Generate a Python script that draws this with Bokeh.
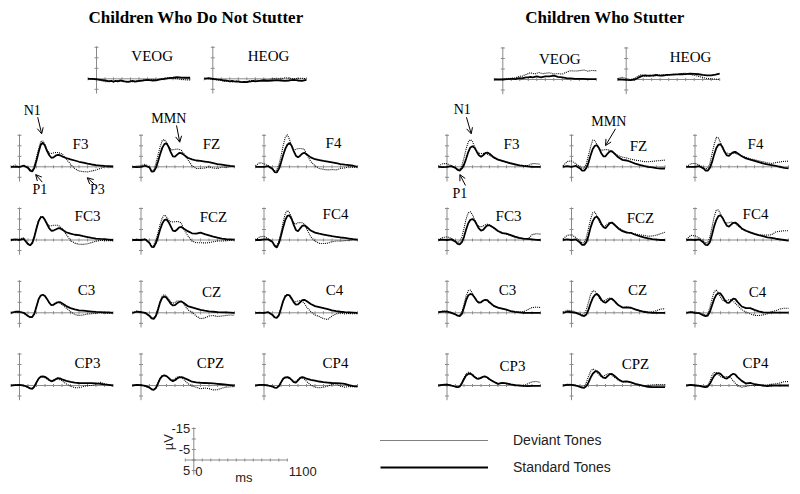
import numpy as np
from bokeh.plotting import figure
from bokeh.models import Range1d, Arrow, OpenHead, Legend, LegendItem
from bokeh.embed import file_html
from bokeh.resources import INLINE
from bokeh.core.properties import value

# ---------------- data (time in ms, amplitude in microvolts, negative up) ----------------
T_MS = [-100, -50, 0, 50, 100, 125, 150, 175, 200, 225, 250, 275, 300, 325, 350, 375,
        400, 425, 450, 475, 500, 550, 600, 650, 700, 750, 800, 850, 900, 950, 1000, 1050, 1100]

CHANNEL_ROWS = [["F3", "FZ", "F4"], ["FC3", "FCZ", "FC4"], ["C3", "CZ", "C4"], ["CP3", "CPZ", "CP4"]]
GROUP_TITLES = ["Children Who Do Not Stutter", "Children Who Stutter"]
LEGEND_LABELS = ["Deviant Tones", "Standard Tones"]
SCALE_V_LABELS = [-15, -5, 5]
SCALE_T_LABELS = [0, 1100]

# Children who do not stutter
NS_VEOG_STD = [0, 0, 0.3, 0.5, 0.8, 1, 1.2, 1, 1.3, 1, 1.2, 0.8, 1, 1.2, 1.3, 1.5, 1.2, 1, 1.3, 1.2, 1, 0.8, 0.5, 0.8, 0.7, 0.3, 0, -0.3, -0.5, -0.8, -0.6, -0.5, -0.5]
NS_VEOG_DEV = [-0.3, 0.2, 0, 0.8, 1.3, 1.5, 1, 1.2, 1.5, 1.2, 1, 1.3, 0.8, 1, 1.5, 1.3, 1, 1.4, 1, 0.8, 1.2, 0.5, 0.8, 0.4, 0.6, 0.2, -0.2, -0.5, -0.3, 0, 0.3, 0.5, 0.5]
NS_HEOG_STD = [0, -0.3, 0, 0.3, 0.5, 0.8, 0.8, 1, 1.2, 1, 1.2, 1.3, 1.2, 1.5, 1.6, 1.5, 1.6, 1.3, 1.2, 1, 1.2, 1, 0.8, 1, 0.8, 0.6, 0.8, 1, 0.8, 0.5, 0.8, 1, 0.5]
NS_HEOG_DEV = [-0.3, 0, 0.3, 0.5, 0.8, 1, 1.2, 1, 1.3, 1.5, 1.2, 1, 1.4, 1.8, 1.5, 1.2, 1.5, 1, 0.8, 1, 0.6, 0.8, 0.3, 0.5, 0, -0.3, 0, -0.5, -0.3, 0, -0.2, -0.3, 0]

NS_F3_STD = [0, 0, 0, -0.5, 0.5, 1.8, 2.2, 0.5, -3, -7, -10.5, -11.5, -10, -7.5, -5.5, -4.3, -4.5, -5.3, -5.7, -5.5, -5, -4.2, -3.5, -3, -2.4, -2, -1.5, -1.1, -0.8, -0.6, -0.4, -0.3, -0.2]
NS_F3_DEV = [0, -0.8, 0.2, -0.8, 0.3, 1.4, 1.6, -0.5, -4.5, -8.5, -12, -12.3, -10.5, -8, -6.5, -6.3, -6.6, -6.8, -6.8, -6.5, -6.2, -3.6, -1.3, 0.8, 2, 2.3, 2.4, 2, 1.5, 0.8, 0, 0.4, 0.2]
NS_FZ_STD = [0, 0.2, 0, -0.5, 0.3, 2.3, 2.2, 0.5, -2.5, -6, -9, -10.8, -11.2, -9.5, -7, -5, -4.8, -5.8, -6.6, -6.5, -5.8, -4.3, -3.5, -3, -2.8, -2.5, -2.2, -1.8, -1.3, -1, -0.7, -0.4, -0.2]
NS_FZ_DEV = [0, -0.3, -0.5, -1.2, 0.3, 1.8, 1.5, -1.5, -5.5, -9.5, -12.5, -13, -11.5, -9.5, -8.3, -8, -8.3, -8.5, -8.3, -7.8, -6.5, -3.5, -0.5, 0.8, 0.8, 0.6, 0, 0.6, 0.8, 0.2, 0.3, 0, 0]
NS_F4_STD = [0, 0, 0, -0.3, 1, 2.5, 2.7, 1, -2, -5.5, -8.5, -10.5, -11.3, -10, -7.5, -5.3, -4.5, -5.3, -6.3, -6.7, -6, -4.5, -3.6, -3.2, -2.8, -2.5, -2.1, -1.7, -1.3, -1, -0.8, -0.5, 0]
NS_F4_DEV = [-0.5, -2, -1.5, -0.5, 0.8, 2, 1.5, -1, -5, -10, -14, -15.3, -13, -10, -8, -8.3, -8.7, -8.7, -8.6, -8.3, -6, -2.5, -0.5, 0.8, 1.2, 1.5, 1.3, 1.5, 0.8, 0.5, 0, 0.3, 0]
NS_FC3_STD = [0, -0.3, 0, -0.5, 2, 2.5, 1.5, -1.5, -5.5, -9, -10.8, -11, -9.5, -7.5, -5.5, -4.4, -4.5, -5, -5.5, -5.6, -5, -3.7, -3, -2.5, -2.3, -1.8, -1.4, -1, -0.7, -0.5, -0.4, -0.2, 0]
NS_FC3_DEV = [0, 0, -0.5, -1, 1.5, 2.2, 1.2, -2, -6, -9.5, -11.2, -11.2, -9.5, -7.8, -6.7, -6.8, -7, -7, -7, -6.5, -5.5, -2.7, 0.2, 1.5, 2, 2.1, 1.8, 1.2, 0.6, 0.2, 0.3, 0.3, 0.3]
NS_FCZ_STD = [0, 0, 0, -0.3, 1.5, 3.3, 3.4, 1.5, -1.5, -5, -7.8, -9.5, -9.8, -8.5, -6.5, -4.5, -4.2, -5, -6, -6.2, -5.5, -4.2, -3.2, -3, -3.5, -2.8, -2.2, -1.6, -1.1, -0.7, -0.4, -0.3, -0.2]
NS_FCZ_DEV = [0, -0.5, 0, -0.5, 1, 2.8, 2.5, 0, -3.5, -7.5, -10.5, -11.9, -11, -9.5, -8.7, -8.6, -8.7, -8.8, -8.7, -8, -5.5, -2, 0.5, 1.3, 1.3, 1.4, 1.3, 0.8, 0.5, 0.5, 0.3, 0.2, 0]
NS_FC4_STD = [0, 0, -0.3, -0.3, 1, 2.8, 3.6, 1.5, -2, -6, -9.5, -11.5, -11.7, -10, -7.2, -4.8, -4.2, -5.5, -6.7, -7, -6.3, -4.5, -3.5, -3, -2.6, -2.2, -1.8, -1.5, -1.2, -1, -0.7, -0.4, -0.2]
NS_FC4_DEV = [0, -1.5, -1.8, -0.5, 0.8, 2.5, 2.8, 0.5, -3.5, -8.5, -12.5, -14.1, -13, -10.5, -8, -7.6, -8.2, -8.3, -8.2, -7.5, -5.5, -1.5, 0.5, 1.6, 1.7, 1.5, 0.8, 0.5, 0.5, 0.3, 0.2, 0, 0]
NS_C3_STD = [0, -0.5, -0.5, 0, 1.5, 2.1, 2, 0.5, -3, -6.5, -8.2, -8.6, -8, -6.5, -4.8, -3.6, -3.8, -4.5, -5, -5.1, -4.5, -3.2, -2.2, -1.6, -1.2, -1, -0.8, -0.6, -0.4, -0.3, -0.2, -0.2, 0]
NS_C3_DEV = [0, -0.3, -0.5, 0.2, 1.5, 2, 1.8, 0.3, -3, -6.5, -8.2, -8.4, -7.8, -6.4, -4.8, -3.8, -4, -4.8, -5.2, -4.8, -3.8, -2.3, -0.5, 0.8, 1.3, 1, 0.6, 0.4, 0.3, 0, 0.2, 0.3, 0]
NS_CZ_STD = [0, -0.5, -0.3, 0, 1.5, 2.7, 2.9, 1.5, -1.5, -5, -7.2, -7.8, -7.2, -5.8, -4.3, -3.5, -3.7, -4.5, -5.2, -5.4, -4.8, -3.2, -2.6, -2, -1.4, -1, -0.7, -0.5, -0.3, -0.2, -0.2, -0.1, 0]
NS_CZ_DEV = [0, -0.8, -0.5, 0.3, 1.3, 2.3, 2.4, 1, -2, -5.5, -8, -8.7, -8, -6.5, -5.2, -4.5, -5, -5.6, -5.6, -5.4, -4.5, -1.5, -0.3, 1.5, 2.8, 2.5, 1.5, 1.3, 1.8, 1.5, 1.3, 1, 1.2]
NS_C4_STD = [0, 0, 0, -0.3, 1, 2.2, 2.4, 1.2, -2, -5.5, -7.8, -8.6, -8.3, -6.8, -5, -3.9, -4, -5, -6, -6.2, -5.6, -4.2, -3.2, -2.7, -2.2, -1.7, -1.2, -0.8, -0.5, -0.3, -0.2, -0.1, 0]
NS_C4_DEV = [0, -0.3, 0, -0.2, 1, 2, 2.2, 1, -2.3, -6, -8.2, -8.7, -8, -6.5, -5.5, -5.3, -5.6, -5.8, -5.5, -4.5, -2.8, -0.5, 1, 1.8, 2.8, 3.2, 1.5, 0.5, 0, 0.5, 0.3, 0.5, 0.3]
NS_CP3_STD = [0, -0.2, -0.3, 0, 0.8, 1.4, 1.6, 0.5, -1.5, -3.3, -4.2, -4.3, -4.1, -3.5, -2.6, -2, -2.3, -3, -3.5, -3.4, -2.9, -2.2, -1.7, -1.4, -1.2, -1.1, -1.1, -1.1, -1, -0.8, -0.5, -0.3, 0]
NS_CP3_DEV = [0, -0.4, -0.3, 0.2, 0.8, 1.3, 1.4, 0.4, -1.5, -3.2, -4, -4, -3.7, -3, -2.4, -2.3, -2.7, -3, -3.1, -2.8, -2.2, -0.8, 0.3, 1, 1.1, 0.5, 0, 0, -0.5, -1.5, -0.8, -0.3, 0]
NS_CPZ_STD = [0, -0.3, -0.2, 0.2, 1, 1.8, 2.1, 1.2, -1, -3.3, -4.5, -4.8, -4.5, -3.6, -2.6, -2.1, -2.5, -3.3, -3.9, -4, -3.7, -2.8, -1.8, -1.5, -1.3, -1.2, -1.1, -1, -0.8, -0.6, -0.4, -0.2, 0]
NS_CPZ_DEV = [0, -0.4, -0.3, 0.3, 1, 1.7, 2, 1, -1.2, -3.5, -4.7, -4.9, -4.5, -3.6, -2.8, -2.6, -3.2, -4, -4.2, -3.8, -3, -1, 0.2, 0.8, 1.6, 1.2, 1.5, 2.1, 2, 1.3, 0.8, 0.6, 0.5]
NS_CP4_STD = [0, -0.3, -0.3, 0, 0.5, 1, 1.1, 0.3, -1.5, -3.2, -3.9, -4, -3.6, -2.7, -1.6, -1.4, -2.4, -3.6, -4, -3.7, -3.3, -2.7, -2.3, -1.9, -1.6, -1.4, -1.2, -1.1, -1, -0.8, -0.2, 0.3, 0.5]
NS_CP4_DEV = [0, -0.3, -0.2, 0, 0.5, 0.9, 1, 0.3, -1.3, -2.9, -3.6, -3.7, -3.3, -2.6, -2, -2, -2.8, -3.5, -3.6, -3, -2, -0.2, 0.8, 1.1, 0.8, 0.3, -0.5, -0.8, 0.3, 0.8, 0.5, 0.6, 0.4]

# Children who stutter
S_VEOG_STD = [0, 0, 0, -0.2, -0.3, -0.3, -0.2, -0.5, -0.6, -0.5, -0.8, -1, -1, -1.2, -1, -1.3, -1.5, -1.2, -1, -1.3, -1.5, -1.5, -1.8, -1.3, -1, -0.6, -0.5, -0.3, -0.3, -0.3, -0.2, -0.2, -0.2]
S_VEOG_DEV = [-0.2, 0, -0.2, -0.4, -0.6, -0.7, -0.8, -1.2, -1.6, -1.5, -2, -2.4, -2.8, -3.2, -3, -2.6, -3, -3.3, -3, -2.8, -3, -3.2, -2.6, -2.8, -2.6, -3.5, -4.2, -4, -4.2, -4.5, -4, -4.3, -4.2]
S_HEOG_STD = [0, 0, 0.2, 0.3, 0, -0.5, -1, -1.5, -1.8, -2, -1.8, -1.7, -1.8, -2, -2.2, -2, -1.8, -1.9, -2, -2.2, -2.2, -2.3, -2.4, -2.5, -2.6, -2.8, -2.7, -2.5, -2.2, -2, -2, -2.3, -2.8]
S_HEOG_DEV = [-0.5, -1, -0.5, 0, -0.5, -1.2, -1.8, -2.2, -2, -1.5, -1.8, -2.3, -2, -1.6, -1.8, -2.3, -2, -2, -2.3, -2, -2.2, -2.5, -2.4, -2.8, -3, -2.5, -2, -1.5, -1, -0.5, -0.3, -0.2, 0]

S_F3_STD = [0, 0.2, 0, -0.3, 0.5, 1.5, 1.8, 0.8, -1, -3.8, -7, -9.2, -9.8, -9, -7.2, -5.5, -4.8, -5.5, -6.5, -6.8, -6.2, -4.5, -3.4, -2.8, -2.2, -1.6, -1.1, -0.7, -0.4, -0.2, 0, 0, 0]
S_F3_DEV = [-0.3, -1.5, -1.5, -0.5, 0.5, 1.2, 1.2, -0.5, -4.2, -8.5, -11.8, -13, -12, -9.5, -7.5, -6.5, -6.3, -6.4, -6.3, -6, -5.5, -4.3, -3.5, -2.8, -2.3, -1.8, -1.3, -0.8, -0.5, -0.6, -1.5, -1.5, -1.2]
S_FZ_STD = [0, -0.3, 0, -0.5, 0.8, 1.8, 1.8, 0.5, -2, -5.5, -8.5, -10, -10.3, -8.8, -6.5, -5, -5, -6.3, -7.3, -7.5, -6.5, -4.5, -3.3, -3, -2.3, -1.5, -0.9, -0.4, 0, 0.3, 0.6, 0.8, 0.8]
S_FZ_DEV = [-0.5, -2.5, -2.8, -1.5, 0, 0.8, 0.5, -1.5, -5.5, -9.5, -12.8, -12.5, -10.5, -8.5, -7.9, -8, -8.2, -8.2, -7.8, -7.2, -6.5, -5.3, -4.6, -4.2, -3.6, -3.2, -2.9, -2.5, -2.4, -2.6, -2.8, -3, -3.2]
S_F4_STD = [0, 0, 0, -0.3, 0.8, 1.8, 1.8, 0.5, -2.2, -5.8, -8.8, -10.5, -10.7, -9.3, -7, -5.4, -5.2, -6.2, -7, -7.1, -6.5, -5, -4, -3.4, -2.8, -2.2, -1.6, -1.2, -0.8, -0.4, 0, 0.5, 0.8]
S_F4_DEV = [0, -1.5, -1.6, -0.8, 0.3, 1, 0.8, -1.5, -6, -10.5, -14, -13.8, -11.5, -8.8, -7, -6.5, -6.3, -6.3, -6.4, -6.3, -6, -5.2, -4.5, -3.8, -3.3, -2.8, -2.4, -1.9, -1.6, -2, -2.3, -2.6, -2.7]
S_FC3_STD = [0, -0.2, 0, -0.3, 0.8, 1.8, 2.1, 1, -1.5, -5, -8, -9.6, -10, -9.2, -7.3, -5.5, -4.5, -4.8, -6, -7, -7, -5.8, -4.3, -3.3, -3, -2.3, -1.6, -1, -0.7, -0.5, -0.3, -0.1, 0]
S_FC3_DEV = [0, -1.2, -1.5, -0.8, 0.5, 1.2, 0.8, -1.5, -5.5, -10, -13, -13.5, -12, -9.5, -7.5, -6.5, -6.3, -6.6, -7.2, -7.5, -7.2, -5.6, -4.2, -3.5, -2.8, -2, -1.3, -0.8, -0.6, -0.4, -2.5, -3, -2.8]
S_FCZ_STD = [0, -0.3, 0, -0.3, 1.2, 2.3, 2.3, 1, -2, -6, -9, -10.7, -11.1, -9.8, -7.8, -6.2, -5.6, -6.8, -8, -8.3, -7.5, -5.5, -4.2, -3.5, -3.4, -2.5, -1.8, -1.2, -0.8, -0.4, -0.2, 0, 0]
S_FCZ_DEV = [-0.5, -2.2, -2.5, -1.2, 0.5, 1.5, 1.2, -1.2, -5.5, -10, -13, -13.3, -11.5, -9, -7, -6.4, -6.8, -7.8, -8.3, -8.2, -7.5, -5.8, -4.6, -3.8, -3.3, -2.9, -2.5, -2.2, -1.8, -1.9, -2.3, -3, -3.7]
S_FC4_STD = [0, -0.2, 0, -0.3, 1.2, 2.3, 2.4, 1, -2.5, -6.5, -9.5, -11.4, -11.8, -10.5, -8.5, -6.8, -6.4, -7.3, -8.2, -8.3, -7.5, -5.5, -4.4, -3.6, -2.9, -2.3, -1.8, -1.3, -1, -0.6, -0.3, 0, 0.3]
S_FC4_DEV = [-0.3, -2.2, -2, -1, 0.5, 1.5, 1.2, -1.5, -6, -11, -14.2, -14.3, -12.5, -10, -8.3, -8, -8.3, -8.6, -8.4, -7.8, -7, -5.2, -4.2, -3.5, -2.8, -2.4, -2.4, -2.3, -2.5, -3.8, -4.2, -4.4, -4.4]
S_C3_STD = [-0.3, -0.6, -0.6, 0, 0.8, 1.4, 1.6, 0.5, -2.5, -6, -8.3, -9, -8.6, -7.3, -5.7, -4.8, -5, -5.8, -6.2, -6, -5, -3.3, -2.5, -2, -1.5, -0.8, -0.4, -0.2, 0, 0, 0, 0, 0]
S_C3_DEV = [-0.3, -0.8, -0.8, -0.2, 0.7, 1.2, 1.2, -0.5, -4, -8, -10.5, -10.8, -9.3, -7.3, -5.8, -5, -5.2, -5.8, -6, -5.6, -4.8, -3.2, -2.4, -1.8, -1.3, -0.8, -0.4, -0.3, -0.5, -1.5, -2.5, -2.7, -2.5]
S_CZ_STD = [0, -0.5, -0.3, 0, 0.8, 1.4, 1.6, 0.8, -1.5, -4.5, -7, -8.5, -9, -8, -6.3, -5.2, -4.8, -5.6, -6.5, -6.7, -5.8, -3.7, -2.5, -2.6, -2.4, -1.6, -1, -0.5, -0.2, 0, 0, 0, 0]
S_CZ_DEV = [-0.3, -1.2, -1, -0.3, 0.5, 1, 0.6, -1.5, -5, -8.8, -10.5, -10.3, -8.8, -7, -5.8, -5.6, -6, -6.7, -7, -6.6, -5.6, -3.6, -2.6, -2.7, -2.3, -1.5, -0.8, -0.4, -0.2, -0.5, -1, -1.8, -1.9]
S_C4_STD = [0, -0.3, 0, 0.2, 1.2, 1.6, 1.3, -0.5, -3.5, -6.5, -8.5, -9.4, -9.2, -7.8, -6, -4.8, -4.7, -5.8, -6.7, -6.5, -5.2, -3, -2.2, -2.2, -1.4, -0.7, -0.2, -0.1, -0.1, -0.1, -0.1, -0.1, -0.1]
S_C4_DEV = [0, -0.5, -0.3, 0, 0.8, 1.2, 0.5, -2.5, -6.5, -10, -10.8, -9.5, -7.5, -6, -5.5, -5.8, -6.2, -6.2, -5.5, -4.5, -3.5, -1.5, -0.3, 0.5, 1.2, 1.3, 1, 0.5, -0.5, -1, -1.8, -2.2, -2.2]
S_CP3_STD = [0, -0.3, -0.4, 0, 0.6, 0.8, 0.5, -1, -3, -4.8, -5.5, -5.6, -5, -4, -3.3, -3.2, -3.6, -4.2, -4.3, -3.8, -3, -1.8, -0.8, -1.3, -1, -0.5, -0.2, 0, 0.2, 0.3, 0.2, 0.2, 0.2]
S_CP3_DEV = [0, -0.5, -0.6, 0, 0.5, 0.7, 0.3, -1.5, -3.8, -5.6, -6.3, -6.1, -5.2, -4.2, -3.6, -3.6, -4, -4.3, -4.2, -3.6, -2.8, -1.6, -0.9, -1.2, -0.9, -0.5, -0.2, 0, 0.2, -0.8, -1.8, -1.9, -1.5]
S_CPZ_STD = [0, -0.3, -0.3, 0, 0.7, 1, 1.1, 0.3, -1.5, -3.8, -5.6, -6.6, -6.8, -6, -4.6, -3.7, -3.5, -4.5, -5.4, -5.5, -4.8, -3, -1.8, -2, -1.5, -0.8, -0.3, 0.2, 0.6, 0.8, 0.8, 0.8, 0.8]
S_CPZ_DEV = [0, -0.6, -0.5, 0, 0.5, 0.8, 0.4, -1.5, -4.3, -6.8, -7.9, -7.5, -6.3, -5, -4.3, -4.4, -5, -5.5, -5.6, -5, -4, -2.6, -1.7, -1.9, -1.4, -0.7, -0.2, 0.2, 0, -0.3, -0.4, -0.4, -0.4]
S_CP4_STD = [0, -0.3, 0, 0.2, 0.6, 0.8, 0.5, -0.8, -2.8, -4.6, -5.6, -5.9, -5.5, -4.5, -3.5, -3.3, -4, -5, -5.6, -5.2, -4, -2.2, -1, -1.2, -0.6, -0.3, 0, 0.3, 0, 0, 0, 0, 0]
S_CP4_DEV = [0, -0.5, -0.3, 0, 0.5, 0.5, 0, -2, -4.8, -6.2, -6.2, -5.3, -4.2, -3.8, -4, -4.3, -4.2, -3.5, -2.2, -1, 0, 0.8, 0.4, 0, 0, 0, 0, -0.3, -0.6, -0.8, -1.2, -1.8, -1.9]

NS_DATA = {
    "F3": (NS_F3_STD, NS_F3_DEV), "FZ": (NS_FZ_STD, NS_FZ_DEV), "F4": (NS_F4_STD, NS_F4_DEV),
    "FC3": (NS_FC3_STD, NS_FC3_DEV), "FCZ": (NS_FCZ_STD, NS_FCZ_DEV), "FC4": (NS_FC4_STD, NS_FC4_DEV),
    "C3": (NS_C3_STD, NS_C3_DEV), "CZ": (NS_CZ_STD, NS_CZ_DEV), "C4": (NS_C4_STD, NS_C4_DEV),
    "CP3": (NS_CP3_STD, NS_CP3_DEV), "CPZ": (NS_CPZ_STD, NS_CPZ_DEV), "CP4": (NS_CP4_STD, NS_CP4_DEV),
    "VEOG": (NS_VEOG_STD, NS_VEOG_DEV), "HEOG": (NS_HEOG_STD, NS_HEOG_DEV),
}
S_DATA = {
    "F3": (S_F3_STD, S_F3_DEV), "FZ": (S_FZ_STD, S_FZ_DEV), "F4": (S_F4_STD, S_F4_DEV),
    "FC3": (S_FC3_STD, S_FC3_DEV), "FCZ": (S_FCZ_STD, S_FCZ_DEV), "FC4": (S_FC4_STD, S_FC4_DEV),
    "C3": (S_C3_STD, S_C3_DEV), "CZ": (S_CZ_STD, S_CZ_DEV), "C4": (S_C4_STD, S_C4_DEV),
    "CP3": (S_CP3_STD, S_CP3_DEV), "CPZ": (S_CPZ_STD, S_CPZ_DEV), "CP4": (S_CP4_STD, S_CP4_DEV),
    "VEOG": (S_VEOG_STD, S_VEOG_DEV), "HEOG": (S_HEOG_STD, S_HEOG_DEV),
}
for d in (NS_DATA, S_DATA):
    for k, (a, b) in d.items():
        assert len(a) == len(T_MS) and len(b) == len(T_MS), k

# ---------------- layout (page pixels of each panel's origin: t=0, 0 uV) ----------------
W, H = 792, 486
KX = 0.085   # px per ms
KY = 2.1     # px per uV (negative up)
V_TICKS = [-15, -10, -5, 0, 5]
T_TICKS = list(range(-100, 1101, 100))
V_LIM = (-15.5, 7.0)
T_LIM = (-100, 1100)

NS_COLS = [19.0, 140.5, 263.5]
S_COLS = [446.5, 571.0, 694.5]
ROWS = [166.3, 239.5, 312.3, 385.0]
NS_EOG = {"VEOG": (96.0, 78.3), "HEOG": (212.3, 78.3)}
S_EOG = {"VEOG": (502.3, 79.0), "HEOG": (625.7, 79.0)}
SCALE_ORIGIN = (193.3, 459.5)

NS_LABEL_OFF = {"F3": (61, -23), "FZ": (70.5, -23), "F4": (69.5, -24), "FC3": (68, -24.5),
                "FCZ": (72.5, -23.5), "FC4": (71.5, -26), "C3": (67, -23), "CZ": (70.5, -20.5),
                "C4": (70.5, -23), "CP3": (68, -23), "CPZ": (69.5, -23), "CP4": (71.5, -23),
                "VEOG": (55.7, -23.3), "HEOG": (55.7, -23.3)}
S_LABEL_OFF = {"F3": (64.5, -23), "FZ": (67, -21.3), "F4": (60.5, -23), "FC3": (61.5, -24.5),
               "FCZ": (69, -22.5), "FC4": (60.5, -26), "C3": (60.5, -23), "CZ": (66, -23),
               "C4": (62.5, -21.3), "CP3": (65.5, -19.5), "CPZ": (64, -22), "CP4": (60.5, -23),
               "VEOG": (57, -20.7), "HEOG": (64.3, -22.3)}

SERIF = value("Liberation Serif")
SANS = value("Liberation Sans")
AXIS_COLOR = "#8a8a8a"


def tx(x0, t):
    return x0 + np.asarray(t, dtype=float) * KX


def vy(y0, v):
    return y0 + np.asarray(v, dtype=float) * KY


p = figure(width=W, height=H, x_range=Range1d(0, W), y_range=Range1d(H, 0),
           output_backend="svg", toolbar_location=None, x_axis_type=None, y_axis_type=None,
           min_border=0, outline_line_color=None, background_fill_color="white",
           border_fill_color="white")


def draw_axes(x0, y0):
    p.segment(x0=[tx(x0, T_LIM[0])], y0=[y0], x1=[tx(x0, T_LIM[1])], y1=[y0],
              line_color=AXIS_COLOR, line_width=1)
    p.segment(x0=[x0], y0=[vy(y0, V_LIM[0])], x1=[x0], y1=[vy(y0, V_LIM[1])],
              line_color=AXIS_COLOR, line_width=1)
    xt = tx(x0, T_TICKS)
    p.segment(x0=xt, y0=np.full(len(xt), y0 - 1.5), x1=xt, y1=np.full(len(xt), y0 + 1.5),
              line_color=AXIS_COLOR, line_width=1)
    yt = vy(y0, V_TICKS)
    p.segment(x0=np.full(len(yt), x0 - 2), y0=yt, x1=np.full(len(yt), x0 + 2), y1=yt,
              line_color=AXIS_COLOR, line_width=1)


legend_renderers = {}


def draw_panel(x0, y0, name, data, label_off):
    draw_axes(x0, y0)
    std, dev = data[name]
    r_dev = p.line(tx(x0, T_MS), vy(y0, dev), line_color="black", line_width=1.1, line_dash="1 1")
    r_std = p.line(tx(x0, T_MS), vy(y0, std), line_color="black", line_width=1.8)
    legend_renderers.setdefault("dev", r_dev)
    legend_renderers.setdefault("std", r_std)
    dx, dy = label_off[name]
    p.text(x=[x0 + dx], y=[y0 + dy], text=[name], text_font=SERIF, text_font_size="15px",
           text_align="center", text_baseline="middle", text_color="black")


for cols, eog, data, loff in ((NS_COLS, NS_EOG, NS_DATA, NS_LABEL_OFF),
                              (S_COLS, S_EOG, S_DATA, S_LABEL_OFF)):
    for name, (ex, ey) in eog.items():
        draw_panel(ex, ey, name, data, loff)
    for r, row in enumerate(CHANNEL_ROWS):
        for c, name in enumerate(row):
            draw_panel(cols[c], ROWS[r], name, data, loff)

# group titles
p.text(x=[195.5, 604.5], y=[17, 17], text=GROUP_TITLES, text_font=SERIF, text_font_size="17px",
       text_font_style="bold", text_align="center", text_baseline="middle", text_color="black")

# component annotations: (panel origin, text (t, v), arrow start (t, v), arrow end (t, v))
ANNOTATIONS = [
    ("N1", (NS_COLS[0], ROWS[0]), (150, -26.8), (214, -23.6), (261, -15.7)),
    ("P1", (NS_COLS[0], ROWS[0]), (240, 11), (268, 7.3), (190, 3.7)),
    ("P3", (NS_COLS[0], ROWS[0]), (915, 11), (875, 8.1), (797, 5.2)),
    ("MMN", (NS_COLS[1], ROWS[0]), (327, -22.9), (418, -19.7), (456, -11.7)),
    ("N1", (S_COLS[0], ROWS[0]), (179, -27.3), (229, -23.6), (285, -15.7)),
    ("P1", (S_COLS[0], ROWS[0]), (151, 12.9), (218, 8.9), (151, 3.7)),
    ("MMN", (S_COLS[1], ROWS[0]), (439, -21.6), (518, -18.1), (400, -10.1)),
]
for lab, (ox, oy), (tt, tv), (st, sv), (et, ev) in ANNOTATIONS:
    p.text(x=[tx(ox, tt)], y=[vy(oy, tv)], text=[lab], text_font=SERIF, text_font_size="14px",
           text_align="center", text_baseline="middle", text_color="black")
    p.add_layout(Arrow(x_start=float(tx(ox, st)), y_start=float(vy(oy, sv)),
                       x_end=float(tx(ox, et)), y_end=float(vy(oy, ev)),
                       line_color="black", line_width=1,
                       end=OpenHead(size=6, line_color="black", line_width=1)))

# scale bar
sx0, sy0 = SCALE_ORIGIN
draw_axes(sx0, sy0)
p.text(x=[sx0 - 3.5] * len(SCALE_V_LABELS), y=vy(sy0, SCALE_V_LABELS), text=[str(v) for v in SCALE_V_LABELS],
       text_font=SANS, text_font_size="13px", text_align="right", text_baseline="middle", text_color="#222222")
p.text(x=tx(sx0, SCALE_T_LABELS) + 1.5, y=[vy(sy0, 5.3)] * 2, text=[str(t) for t in SCALE_T_LABELS],
       text_font=SANS, text_font_size="13px", text_align="left", text_baseline="middle", text_color="#222222")
p.text(x=[tx(sx0, 590)], y=[vy(sy0, 8.5)], text=["ms"], text_font=SANS, text_font_size="13px",
       text_align="center", text_baseline="middle", text_color="#222222")
p.text(x=[tx(sx0, -295)], y=[vy(sy0, -8.5)], text=["µV"], text_font=SANS, text_font_size="13px",
       text_align="center", text_baseline="middle", angle=np.pi / 2, text_color="#222222")

# legend (location = bottom-left corner of the legend box, screen px from the frame's bottom-left)
legend = Legend(items=[LegendItem(label=LEGEND_LABELS[0], renderers=[legend_renderers["dev"]]),
                       LegendItem(label=LEGEND_LABELS[1], renderers=[legend_renderers["std"]])],
                location=(380, 9.3), orientation="vertical", padding=0, margin=0, spacing=7,
                glyph_width=108, glyph_height=20, label_standoff=25, label_height=20,
                label_text_font="Liberation Sans", label_text_font_size="14px",
                label_text_color="#222222", border_line_color=None, background_fill_alpha=0)
p.add_layout(legend)

open("out.html", "w").write(file_html(p, INLINE))
